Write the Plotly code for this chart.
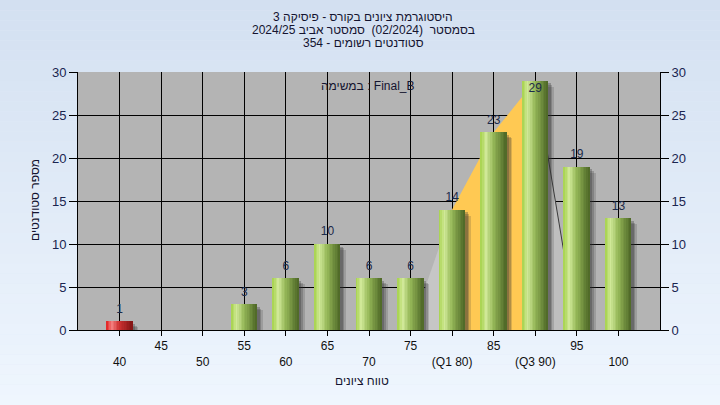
import plotly.graph_objects as go

# ---------------- data ----------------
categories = [40, 45, 50, 55, 60, 65, 70, 75, 80, 85, 90, 95, 100]
tick_labels = ["40", "45", "50", "55", "60", "65", "70", "75", "(Q1 80)", "85", "(Q3 90)", "95", "100"]
counts = [1, 0, 0, 3, 6, 10, 6, 6, 14, 23, 29, 19, 13]
failing = [True] + [False] * 12

# shaded distribution regions (category indices / heights)
left_tail_x = [7, 8]
left_tail_y = [0, 14]
iqr_x = [8, 9, 10]
iqr_y = [14, 23, 29]
right_tail_x = [10, 11]
right_tail_y = [29, 0]

title_lines = [
    "היסטוגרמת ציונים בקורס - פיסיקה 3",
    "בסמסטר  (02/2024)  סמסטר אביב 2024/25",
    "סטודנטים רשומים - 354",
]
task_label = "במשימה : Final_B"
x_title = "טווח ציונים"
y_title = "מספר סטודנטים"

# ---------------- layout constants ----------------
W, H = 720, 405
ML, MR, MT, MB = 78, 60, 72, 75
PW, PH = W - ML - MR, H - MT - MB
FONT = "Liberation Sans, Arial, DejaVu Sans, sans-serif"


def px_x(px):
    return (px - ML) / PW


def px_y(py):
    return (H - MB - py) / PH


def lerp(c1, c2, t):
    return tuple(round(a + (b - a) * t) for a, b in zip(c1, c2))


def grad(stops, t):
    for (t0, c0), (t1, c1) in zip(stops, stops[1:]):
        if t0 <= t <= t1:
            return lerp(c0, c1, (t - t0) / (t1 - t0))
    return stops[-1][1]


green_stops = [(0.0, (165, 210, 74)), (0.22, (208, 232, 152)), (0.5, (150, 184, 88)), (1.0, (76, 102, 38))]
red_stops = [(0.0, (225, 30, 30)), (0.22, (242, 125, 125)), (0.5, (205, 50, 50)), (1.0, (130, 20, 20))]

fig = go.Figure()
idx = list(range(len(categories)))

# distribution shading behind bars (main axes, drawn first)
fig.add_trace(go.Scatter(x=left_tail_x, y=left_tail_y, mode="lines", line=dict(width=0),
                         fill="tozeroy", fillcolor="#C6C6C6", hoverinfo="skip", showlegend=False))
fig.add_trace(go.Scatter(x=iqr_x, y=iqr_y, mode="lines", line=dict(width=0),
                         fill="tozeroy", fillcolor="#FFC953", hoverinfo="skip", showlegend=False))
fig.add_trace(go.Scatter(x=right_tail_x, y=right_tail_y, mode="lines", line=dict(width=1, color="#3A3A3A"),
                         fill="tozeroy", fillcolor="#BEBEBE", hoverinfo="skip", showlegend=False))

BW = 0.62
# shadows (overlay axis, drawn above shading)
for dx, dy, alpha in [(0.14, 0.7, 0.18), (0.10, 0.5, 0.25), (0.06, 0.3, 0.3)]:
    fig.add_trace(go.Bar(x=idx, y=[max(c - dy, 0) if c > 0 else 0 for c in counts],
                         width=BW, offset=-BW / 2 + dx, yaxis="y2",
                         marker=dict(color=f"rgba(50,50,50,{alpha})", line=dict(width=0)),
                         hoverinfo="skip", showlegend=False))

# gradient bars built from narrow strips
N = 16
for i in range(N):
    t = (i + 0.5) / N
    cols = [f"rgb{grad(red_stops if f else green_stops, t)}" for f in failing]
    fig.add_trace(go.Bar(x=idx, y=counts, width=BW / N + 0.002, offset=-BW / 2 + i * BW / N,
                         yaxis="y2", marker=dict(color=cols, line=dict(width=0)),
                         hoverinfo="skip", showlegend=False))

# value labels (kept inside the plot area at the top)
lab_x = [i for i, c in zip(idx, counts) if c > 0]
lab_v = [c for c in counts if c > 0]
lab_y = [min(c + 1.35, 28.0) for c in lab_v]
fig.add_trace(go.Scatter(x=lab_x, y=lab_y, mode="text", text=[str(c) for c in lab_v],
                         textposition="middle center", yaxis="y2",
                         textfont=dict(family=FONT, size=12, color="#1B2A4A"),
                         hoverinfo="skip", showlegend=False, cliponaxis=False))

# background gradient
shapes = []
top_c, bot_c = (211, 224, 241), (239, 246, 254)
NS = 40
for k in range(NS):
    c = lerp(top_c, bot_c, (k + 0.5) / NS)
    shapes.append(dict(type="rect", xref="paper", yref="paper", layer="below",
                       x0=px_x(0), x1=px_x(W), y0=px_y(H * k / NS), y1=px_y(H * (k + 1) / NS),
                       fillcolor=f"rgb{c}", line=dict(width=0)))
shapes.append(dict(type="rect", xref="paper", yref="paper", layer="below",
                   x0=0, x1=1, y0=0, y1=1, fillcolor="#B4B4B4", line=dict(width=0)))

annotations = []
for j, line in enumerate(title_lines):
    annotations.append(dict(text=line, x=px_x(363), y=px_y(17 + 13 * j), xref="paper", yref="paper",
                            showarrow=False, xanchor="center", yanchor="middle",
                            font=dict(family=FONT, size=12, color="#141430")))
annotations.append(dict(text=task_label, x=px_x(368), y=px_y(86), xref="paper", yref="paper",
                        showarrow=False, xanchor="center", yanchor="middle",
                        font=dict(family=FONT, size=12, color="#141430")))
annotations.append(dict(text=x_title, x=px_x(362), y=px_y(381), xref="paper", yref="paper",
                        showarrow=False, xanchor="center", yanchor="middle",
                        font=dict(family=FONT, size=12, color="#141430")))
annotations.append(dict(text=y_title, x=px_x(35), y=px_y(200), xref="paper", yref="paper",
                        showarrow=False, xanchor="center", yanchor="middle", textangle=-90,
                        font=dict(family=FONT, size=12, color="#141430")))

ticktext = [("<br>" + t) if i % 2 == 0 else t for i, t in enumerate(tick_labels)]

yticks = [0, 5, 10, 15, 20, 25, 30]
fig.update_layout(
    width=W, height=H,
    margin=dict(l=ML, r=MR, t=MT, b=MB, pad=0),
    paper_bgcolor="rgb(225,235,248)",
    plot_bgcolor="#B4B4B4",
    barmode="overlay",
    bargap=0,
    shapes=shapes,
    annotations=annotations,
    xaxis=dict(range=[-1, 13], tickmode="array", tickvals=idx, ticktext=ticktext,
               showgrid=True, gridcolor="#000000", gridwidth=1,
               showline=True, linecolor="#000000", linewidth=1,
               ticks="outside", ticklen=5, tickcolor="#000000",
               tickfont=dict(family=FONT, size=12, color="#101010"),
               zeroline=False, fixedrange=True),
    yaxis=dict(range=[0, 30], tickmode="array", tickvals=yticks,
               showgrid=True, gridcolor="#000000", gridwidth=1,
               showline=True, linecolor="#000000", linewidth=1,
               ticks="outside", ticklen=8, tickcolor="#000000",
               tickfont=dict(family=FONT, size=13, color="#1A2550"),
               zeroline=False, fixedrange=True),
    yaxis2=dict(range=[0, 30], overlaying="y", side="right", tickmode="array",
                tickvals=yticks, showgrid=False,
                showline=True, linecolor="#000000", linewidth=1,
                ticks="outside", ticklen=8, tickcolor="#000000",
                tickfont=dict(family=FONT, size=13, color="#1A2550"),
                zeroline=False, fixedrange=True),
    showlegend=False,
)

fig.write_html("out.html", config={"displayModeBar": False},
               post_script="document.body.style.margin='0';document.body.style.padding='0';")
